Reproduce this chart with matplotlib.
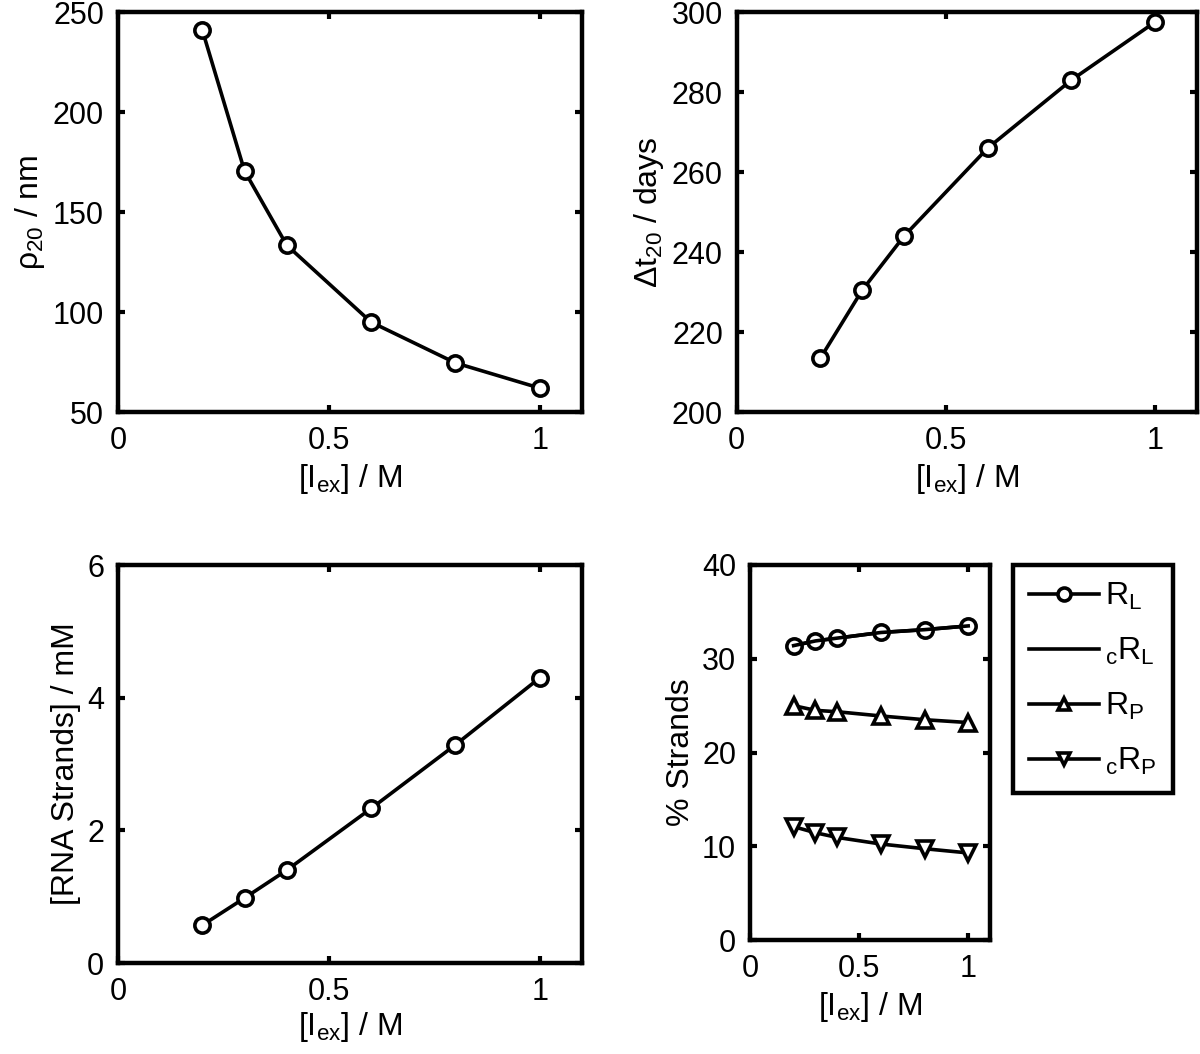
import matplotlib.pyplot as plt
import numpy as np

plt.rcParams['font.family'] = ['Liberation Sans', 'DejaVu Sans']
plt.rcParams['mathtext.default'] = 'regular'
plt.rcParams['font.size'] = 22

# Ionenstaerke
I_ex = [0.2, 0.3, 0.4, 0.6, 0.8, 1.0]

rho20 = [241, 170.6, 133.5, 95, 74.6, 62]
dt20 = [213.5, 230.5, 244, 266, 283, 297.5]
rna_strands = [0.57, 0.98, 1.40, 2.33, 3.29, 4.30]

R_L = [31.4, 31.9, 32.2, 32.8, 33.1, 33.5]
cR_L = [31.4, 31.9, 32.2, 32.8, 33.1, 33.5]
R_P = [25.0, 24.5, 24.35, 23.9, 23.5, 23.2]
cR_P = [12.1, 11.45, 10.95, 10.25, 9.75, 9.3]

xlab = '[I$_{ex}$] / M'
line_kw = dict(color='black', lw=2.6, ms=11, mew=2.6, mfc='white')
lab_fs = 23

fig = plt.figure(figsize=(12, 10.54), dpi=100)


def style(ax, ylim, yticks):
    ax.set_xlim(0, 1.1)
    ax.set_xticks([0, 0.5, 1])
    ax.set_xticklabels(['0', '0.5', '1'])
    ax.set_ylim(*ylim)
    ax.set_yticks(yticks)
    for s in ax.spines.values():
        s.set_linewidth(3.2)
    ax.tick_params(direction='in', length=5, width=3, top=True, right=True,
                   labelsize=22, pad=10)


ax1 = fig.add_axes([0.0983, 0.609, 0.3867, 0.3795])
ax1.plot(I_ex, rho20, 'o-', **line_kw)
style(ax1, (50, 250), [50, 100, 150, 200, 250])
ax1.set_xlabel(xlab, fontsize=lab_fs)
ax1.set_ylabel('ρ$_{20}$ / nm', fontsize=lab_fs)

ax2 = fig.add_axes([0.614, 0.609, 0.3833, 0.3795])
ax2.plot(I_ex, dt20, 'o-', **line_kw)
style(ax2, (200, 300), [200, 220, 240, 260, 280, 300])
ax2.set_xlabel(xlab, fontsize=lab_fs)
ax2.set_ylabel('Δt$_{20}$ / days', fontsize=lab_fs)

ax3 = fig.add_axes([0.0983, 0.0863, 0.3867, 0.3776])
ax3.plot(I_ex, rna_strands, 'o-', **line_kw)
style(ax3, (0, 6), [0, 2, 4, 6])
ax3.set_xlabel(xlab, fontsize=lab_fs, labelpad=2)
ax3.set_ylabel('[RNA Strands] / mM', fontsize=lab_fs)

ax4 = fig.add_axes([0.625, 0.108, 0.2, 0.356])
ax4.plot(I_ex, R_L, 'o-', label='R$_L$', **line_kw)
ax4.plot(I_ex, cR_L, '-', label='$_c$R$_L$', color='black', lw=2.6)
ax4.plot(I_ex, R_P, '^-', label='R$_P$', **line_kw)
ax4.plot(I_ex, cR_P, 'v-', label='$_c$R$_P$', **line_kw)
style(ax4, (0, 40), [0, 10, 20, 30, 40])
ax4.set_xlabel(xlab, fontsize=lab_fs)
ax4.set_ylabel('% Strands', fontsize=lab_fs)

leg = fig.legend(loc='upper left', bbox_to_anchor=(0.844, 0.464),
                 fontsize=23, handlelength=2.2, labelspacing=0.75,
                 borderpad=0.5, borderaxespad=0, fancybox=False,
                 edgecolor='black', framealpha=1, handletextpad=0.2,
                 markerscale=0.85)
leg.get_frame().set_linewidth(3.2)

fig.savefig('out.png', dpi=100)
